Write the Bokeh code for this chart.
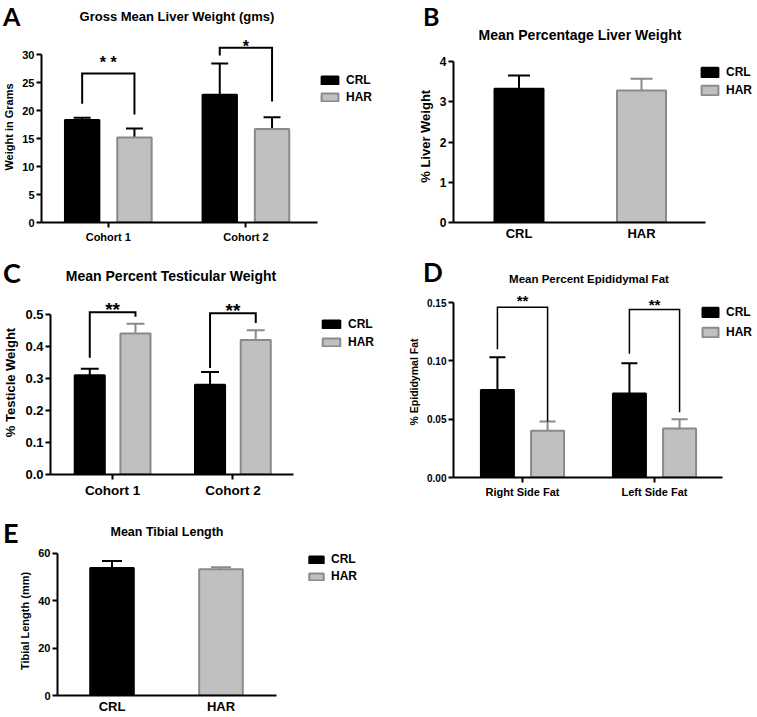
from bokeh.plotting import figure
from bokeh.layouts import column, row
from bokeh.models import (Range1d, FixedTicker, Label, Legend, LegendItem, ColumnDataSource,
                          PrintfTickFormatter, Div)
from bokeh.embed import file_html
from bokeh.resources import INLINE

# ---------------- data ----------------
series = ["CRL", "HAR"]

a_groups = ["Cohort 1", "Cohort 2"]
a_crl = [18.3, 22.8]
a_crl_hi = [18.7, 28.4]
a_har = [15.2, 16.7]
a_har_hi = [16.8, 18.8]
a_sig = ["* *", "*"]
a_br_top = [26.6, 31.2]
a_br_left = [21.2, 29.8]
a_br_right = [19.3, 21.6]
a_yticks = [0, 5, 10, 15, 20, 25, 30]

b_groups = ["CRL", "HAR"]
b_mean = [3.32, 3.28]
b_hi = [3.65, 3.57]
b_yticks = [0, 1, 2, 3, 4]

c_groups = ["Cohort 1", "Cohort 2"]
c_crl = [0.31, 0.28]
c_crl_hi = [0.33, 0.32]
c_har = [0.44, 0.42]
c_har_hi = [0.47, 0.45]
c_sig = ["**", "**"]
c_br_top = [0.506, 0.503]
c_br_left = [0.364, 0.332]
c_br_right = [0.492, 0.473]
c_yticks = [0.0, 0.1, 0.2, 0.3, 0.4, 0.5]

d_groups = ["Right Side Fat", "Left Side Fat"]
d_crl = [0.075, 0.072]
d_crl_hi = [0.103, 0.098]
d_har = [0.040, 0.042]
d_har_hi = [0.048, 0.050]
d_sig = ["**", "**"]
d_br_top = [0.146, 0.144]
d_br_left = [0.110, 0.106]
d_br_right = [0.048, 0.056]
d_yticks = [0.00, 0.05, 0.10, 0.15]

e_groups = ["CRL", "HAR"]
e_mean = [53.8, 53.3]
e_hi = [56.8, 54.1]
e_yticks = [0, 20, 40, 60]

# ---------------- style ----------------
FONT = "Liberation Sans"
LETTER_FONT = "Lato"
BLACK = "#000000"
GREY_FILL = "#c0c0c0"
GREY_LINE = "#8a8a8a"


def base_fig(w, h, xr, yr, **kw):
    p = figure(width=w, height=h, output_backend="svg", toolbar_location=None, tools="",
               x_range=xr, y_range=yr, **kw)
    p.outline_line_color = None
    p.grid.visible = False
    p.background_fill_color = "white"
    p.border_fill_color = "white"
    return p


def header(x0, y0, w, h, letter, lx, ly, lsize, title, tx, ty, tsize):
    lh_l = round(lsize * 1.2)
    lh_t = round(tsize * 1.25)
    html = (
        f'<div style="position:relative;width:{w}px;height:{h}px;overflow:visible;">'
        f'<span style="position:absolute;left:{lx - x0}px;top:{max(0, ly - y0 - lh_l / 2)}px;'
        f'font-family:{LETTER_FONT};font-weight:bold;font-size:{lsize}px;line-height:{lh_l}px;'
        f'white-space:nowrap;color:#000;">{letter}</span>'
        f'<span style="position:absolute;left:{tx - x0 - 200}px;width:400px;text-align:center;'
        f'top:{ty - y0 - lh_t / 2}px;font-family:\'{FONT}\';font-weight:bold;font-size:{tsize}px;'
        f'line-height:{lh_t}px;white-space:nowrap;color:#000;">{title}</span></div>'
    )
    return Div(text=html, width=w, height=h, margin=0)


def make_panel(x0, y0, w, h, ax_px, zero_px, top_val, top_px, c0_px, step_px, xend_px,
               yticks, yfmt, tick_size, xlab_size, ylabel, ylab_size, xticks_visible=True):
    ppu = (zero_px - top_px) / top_val
    fx = lambda px: (px - c0_px) / step_px
    fy = lambda py: (zero_px - py) / ppu
    p = base_fig(w, h, Range1d(fx(ax_px), fx(x0 + w)), Range1d(0, fy(y0)),
                 min_border_left=ax_px - x0, min_border_right=0, min_border_top=0,
                 min_border_bottom=y0 + h - zero_px)
    for ax in (p.xaxis[0], p.yaxis[0]):
        ax.axis_line_width = 2
        ax.axis_line_color = BLACK
        ax.major_tick_line_width = 2
        ax.major_tick_line_color = BLACK
        ax.major_tick_in = 0
        ax.major_tick_out = 5
        ax.minor_tick_line_color = None
        ax.major_label_text_font = FONT
        ax.major_label_text_font_style = "bold"
        ax.major_label_text_color = BLACK
        ax.axis_label_text_font = FONT
        ax.axis_label_text_font_style = "bold"
        ax.axis_label_text_color = BLACK
    p.xaxis.bounds = (fx(ax_px), fx(xend_px))
    p.yaxis.bounds = (0, top_val)
    p.yaxis.ticker = FixedTicker(ticks=yticks)
    p.yaxis.formatter = PrintfTickFormatter(format=yfmt)
    p.yaxis.major_label_text_font_size = f"{tick_size}px"
    p.yaxis.major_label_standoff = 2
    p.yaxis.axis_label = ylabel
    p.yaxis.axis_label_text_font_size = f"{ylab_size}px"
    p.yaxis.axis_label_standoff = 4
    p.xaxis.major_label_text_font_size = f"{xlab_size}px"
    p.xaxis.major_label_standoff = 3
    if not xticks_visible:
        p.xaxis.major_tick_out = 0
    return p, ppu


def add_legend(p, items, left_px, first_cy_px, zero_px, ax_px, gw, gh, pitch, size=12):
    item_h = max(gh, round(size * 1.15))
    height = 2 * item_h + (pitch - item_h)
    top_px = first_cy_px - item_h / 2
    lg = Legend(items=items, location=(left_px - ax_px, zero_px - (top_px + height)),
                glyph_width=gw, glyph_height=gh, label_height=gh, spacing=pitch - item_h,
                padding=0, margin=0, border_line_color=None, background_fill_alpha=0,
                label_standoff=6, label_text_font=FONT, label_text_font_style="bold",
                label_text_font_size=f"{size}px", label_text_color=BLACK)
    p.add_layout(lg)


def grouped(p, groups, crl, crl_hi, har, har_hi, off, bw, cap_hw, har_err_color,
            br_top, br_left, br_right, br_lw, sig, sig_size, sig_dy_px, ppu):
    idx = list(range(len(groups)))
    xc = [i - off for i in idx]
    xh = [i + off for i in idx]
    p.xaxis.ticker = FixedTicker(ticks=idx)
    p.xaxis.major_label_overrides = {i: g for i, g in zip(idx, groups)}
    for xs, lo, hi, col in ((xc, crl, crl_hi, BLACK), (xh, har, har_hi, har_err_color)):
        p.segment(x0=xs, y0=lo, x1=xs, y1=hi, line_color=col, line_width=2)
        p.segment(x0=[x - cap_hw for x in xs], y0=hi, x1=[x + cap_hw for x in xs], y1=hi,
                  line_color=col, line_width=2)
    r_crl = p.vbar(x=xc, top=crl, width=bw, bottom=0, fill_color=BLACK, line_color=BLACK, line_width=2)
    r_har = p.vbar(x=xh, top=har, width=bw, bottom=0, fill_color=GREY_FILL, line_color=GREY_LINE, line_width=2)
    p.multi_line(xs=[[a, a, b, b] for a, b in zip(xc, xh)],
                 ys=[[l, t, t, r] for l, t, r in zip(br_left, br_top, br_right)],
                 line_color=BLACK, line_width=br_lw, line_join="miter")
    for a, b, t, s, dy in zip(xc, xh, br_top, sig, sig_dy_px):
        p.add_layout(Label(x=(a + b) / 2, y=t + dy / ppu, text=s, text_font=FONT,
                           text_font_size=f"{sig_size}px", text_font_style="bold",
                           text_align="center", text_baseline="alphabetic", text_color=BLACK))
    return [LegendItem(label=series[0], renderers=[r_crl]), LegendItem(label=series[1], renderers=[r_har])]


def single(p, groups, mean, hi, bw, cap_hw):
    idx = list(range(len(groups)))
    p.xaxis.ticker = FixedTicker(ticks=idx)
    p.xaxis.major_label_overrides = {i: g for i, g in zip(idx, groups)}
    src = ColumnDataSource(dict(x=idx, top=mean, hi=hi,
                                xl=[i - cap_hw for i in idx], xr=[i + cap_hw for i in idx],
                                fill=[BLACK, GREY_FILL], line=[BLACK, GREY_LINE],
                                err=[BLACK, GREY_LINE]))
    p.segment(x0="x", y0="top", x1="x", y1="hi", line_color="err", line_width=2, source=src)
    p.segment(x0="xl", y0="hi", x1="xr", y1="hi", line_color="err", line_width=2, source=src)
    r = p.vbar(x="x", top="top", width=bw, bottom=0, fill_color="fill", line_color="line",
               line_width=2, source=src)
    return [LegendItem(label=series[0], renderers=[r], index=0),
            LegendItem(label=series[1], renderers=[r], index=1)]


# ---------------- panel A ----------------
ha = header(0, 0, 380, 31, "A", 3, 15.5, 25, "Gross Mean Liver Weight (gms)", 177, 17, 13)
pa, ppu_a = make_panel(0, 31, 380, 215, 40, 222, 30, 54, 107, 138, 317,
                       a_yticks, "%d", 11, 11, "Weight in Grams", 11)
items = grouped(pa, a_groups, a_crl, a_crl_hi, a_har, a_har_hi, 0.19, 0.25, 8.5 / 138, BLACK,
                a_br_top, a_br_left, a_br_right, 2, a_sig, 16, [11, 1.5], ppu_a)
add_legend(pa, items, 318, 80, 222, 40, 21, 10, 17)

# ---------------- panel B ----------------
hb = header(380, 0, 376, 46, "B", 423, 16, 25, "Mean Percentage Liver Weight", 580, 35, 14)
pb, ppu_b = make_panel(380, 46, 376, 200, 453, 222, 4, 61, 518.5, 122.5, 705,
                       b_yticks, "%d", 12, 13, "% Liver  Weight", 13, xticks_visible=False)
items = single(pb, b_groups, b_mean, b_hi, 0.4, 11 / 122.5)
add_legend(pb, items, 699, 72, 222, 453, 21, 12, 18)

# ---------------- panel C ----------------
hc = header(0, 246, 380, 44, "C", 3, 273, 27, "Mean Percent Testicular Weight", 171, 276, 14)
pc, ppu_c = make_panel(0, 290, 380, 210, 48, 476, 0.5, 314, 110.5, 121, 292,
                       c_yticks, "%.1f", 13, 13.5, "% Testicle Weight", 13)
items = grouped(pc, c_groups, c_crl, c_crl_hi, c_har, c_har_hi, 0.19, 0.25, 9 / 121, GREY_LINE,
                c_br_top, c_br_left, c_br_right, 2, c_sig, 19, [3, 3], ppu_c)
add_legend(pc, items, 318, 326, 476, 48, 22, 10, 18)

# ---------------- panel D ----------------
hd = header(380, 246, 376, 40, "D", 423, 272, 26, "Mean Percent Epididymal Fat", 589, 279, 11.5)
pd_, ppu_d = make_panel(380, 286, 376, 214, 453, 477, 0.15, 302, 522, 132, 722,
                        d_yticks, "%.2f", 10, 11, "% Epididymal Fat", 10.5)
items = grouped(pd_, d_groups, d_crl, d_crl_hi, d_har, d_har_hi, 0.19, 0.25, 8 / 132, GREY_LINE,
                d_br_top, d_br_left, d_br_right, 1.5, d_sig, 15, [7, 5], ppu_d)
add_legend(pd_, items, 700, 312, 477, 453, 20, 12, 20)

# ---------------- panel E ----------------
he = header(0, 500, 380, 46, "E", 3, 533, 27, "Mean Tibial Length", 167, 532, 12.5)
pe, ppu_e = make_panel(0, 546, 380, 170, 57, 698, 60, 553, 111.5, 109, 276,
                       e_yticks, "%d", 11, 13, "Tibial Length (mm)", 11, xticks_visible=False)
items = single(pe, e_groups, e_mean, e_hi, 0.4, 10 / 109)
add_legend(pe, items, 307, 562, 698, 57, 18, 9, 17)

layout = column(row(column(ha, pa), column(hb, pb)),
                row(column(hc, pc), column(hd, pd_)),
                row(column(he, pe)))
open("out.html", "w").write(file_html(layout, INLINE))
